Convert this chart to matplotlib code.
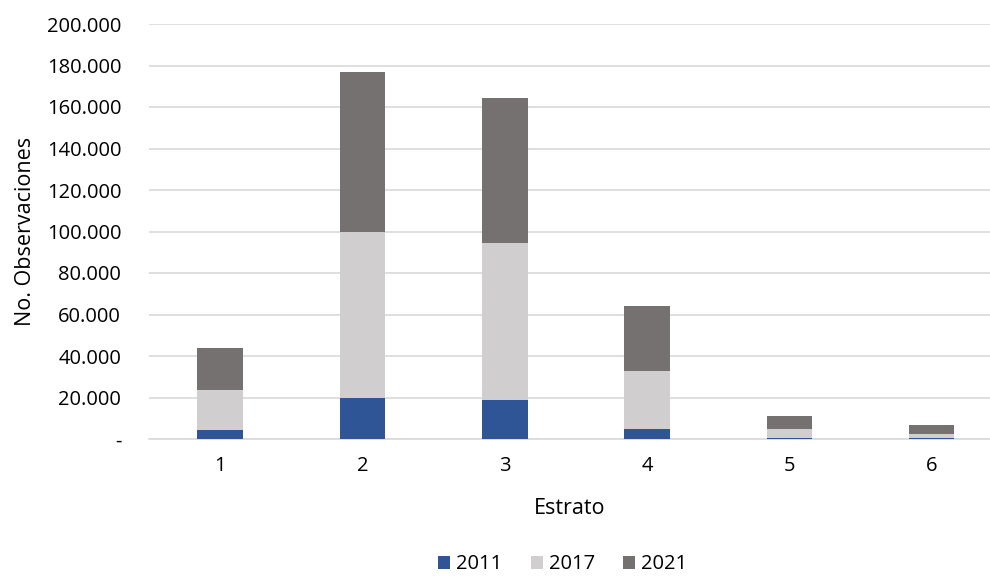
import matplotlib
matplotlib.use("Agg")
import matplotlib.pyplot as plt
from matplotlib.ticker import FuncFormatter

estratos = ["1", "2", "3", "4", "5", "6"]
obs_2011 = [4100, 19700, 18900, 4600, 500, 300]
obs_2017 = [19400, 80100, 75400, 28400, 4400, 2200]
obs_2021 = [20500, 77300, 69800, 30900, 6200, 4300]

COLORS = {"2011": "#2F5597", "2017": "#D0CECE", "2021": "#767171"}

plt.rcParams["font.family"] = ["Open Sans", "DejaVu Sans"]

fig = plt.figure(figsize=(9.9, 5.8), dpi=100)
ax = fig.add_axes([149 / 990, 141 / 580, 841 / 990, 415 / 580])

x = list(range(len(estratos)))
w = 0.32
bottom2 = obs_2011
bottom3 = [a + b for a, b in zip(obs_2011, obs_2017)]
ax.bar(x, obs_2011, w, color=COLORS["2011"], label="2011", zorder=3)
ax.bar(x, obs_2017, w, bottom=bottom2, color=COLORS["2017"], label="2017", zorder=3)
ax.bar(x, obs_2021, w, bottom=bottom3, color=COLORS["2021"], label="2021", zorder=3)

ax.set_xlim(-0.5, 5.41)
ax.set_ylim(0, 200000)
ax.set_yticks(range(0, 200001, 20000))


def fmt(v, pos):
    if v == 0:
        return "-"
    return f"{int(v):,}".replace(",", ".")


ax.yaxis.set_major_formatter(FuncFormatter(fmt))
ax.set_xticks(x)
ax.set_xticklabels(estratos)
ax.grid(axis="y", color="#D9D9D9", linewidth=1.2, zorder=0)
for s in ["top", "right", "left"]:
    ax.spines[s].set_visible(False)
ax.spines["bottom"].set_color("#D9D9D9")
ax.spines["bottom"].set_linewidth(1.2)
ax.tick_params(axis="both", length=0, labelsize=14.5, colors="#000000")
ax.tick_params(axis="y", pad=20)
ax.tick_params(axis="x", pad=12)

ax.set_xlabel("Estrato", fontsize=15.5, labelpad=16)
ax.set_ylabel("No. Observaciones", fontsize=15.5, labelpad=8)

ax.legend(loc="lower center", bbox_to_anchor=(0.5 - 0.008, -0.36), ncol=3,
          frameon=False, fontsize=14.5, handlelength=0.6, handleheight=0.6,
          handletextpad=0.3, columnspacing=1.4, borderpad=0.2)

fig.savefig("out.png", dpi=100)
